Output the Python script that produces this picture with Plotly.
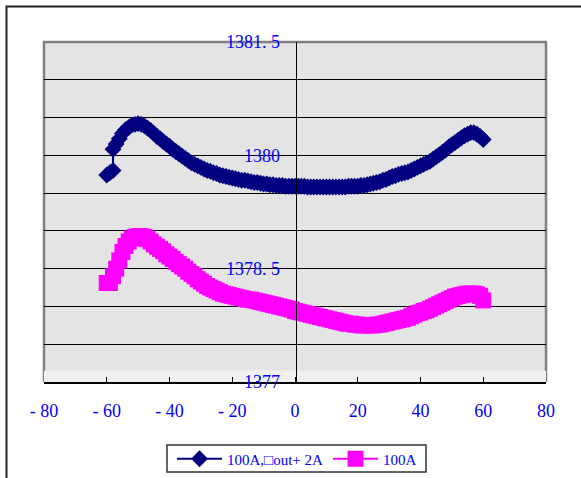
import plotly.graph_objects as go

# ---- data ----
angles_a = [-60, -59, -58] + list(range(-58, 61))
values_a = [1379.74, 1379.77, 1379.80,
            1380.08, 1380.15, 1380.22, 1380.29, 1380.34, 1380.37, 1380.40, 1380.41, 1380.42, 1380.41,  # -58..-49
            1380.39, 1380.36, 1380.33, 1380.29, 1380.25, 1380.22, 1380.18, 1380.15, 1380.12, 1380.08,  # -48..-39
            1380.05, 1380.02, 1379.99, 1379.96, 1379.93, 1379.90, 1379.88, 1379.86, 1379.84, 1379.82,  # -38..-29
            1379.80, 1379.79, 1379.77, 1379.76, 1379.74, 1379.73, 1379.72, 1379.71, 1379.70, 1379.69,  # -28..-19
            1379.68, 1379.67, 1379.67, 1379.66, 1379.65, 1379.64, 1379.64, 1379.63, 1379.62, 1379.62,  # -18..-9
            1379.61, 1379.61, 1379.60, 1379.60, 1379.60, 1379.59, 1379.59, 1379.59,                    # -8..-1
            1379.59,                                                                                    # 0
            1379.59, 1379.59, 1379.59, 1379.58, 1379.58, 1379.58, 1379.58, 1379.58, 1379.58, 1379.58,  # 1..10
            1379.58, 1379.58, 1379.58, 1379.58, 1379.58, 1379.58, 1379.59, 1379.59, 1379.59, 1379.59,  # 11..20
            1379.60, 1379.60, 1379.61, 1379.62, 1379.63, 1379.64, 1379.65, 1379.67, 1379.68, 1379.70,  # 21..30
            1379.72, 1379.73, 1379.75, 1379.76, 1379.77, 1379.78, 1379.80, 1379.82, 1379.84, 1379.86,  # 31..40
            1379.88, 1379.90, 1379.92, 1379.95, 1379.98, 1380.01, 1380.04, 1380.07, 1380.11, 1380.14,  # 41..50
            1380.17, 1380.20, 1380.23, 1380.26, 1380.28, 1380.30, 1380.30, 1380.28, 1380.25, 1380.21]  # 51..60

angles_b = list(range(-60, 61))
values_b = [1378.31, 1378.31, 1378.40, 1378.50, 1378.61, 1378.72, 1378.80, 1378.86, 1378.90, 1378.92,  # -60..-51
            1378.93, 1378.93, 1378.92, 1378.89, 1378.86, 1378.82, 1378.79, 1378.76, 1378.73, 1378.69,  # -50..-41
            1378.66, 1378.63, 1378.59, 1378.56, 1378.53, 1378.50, 1378.46, 1378.43, 1378.40, 1378.36,  # -40..-31
            1378.33, 1378.30, 1378.27, 1378.25, 1378.23, 1378.21, 1378.19, 1378.17, 1378.16, 1378.15,  # -30..-21
            1378.14, 1378.13, 1378.12, 1378.11, 1378.10, 1378.09, 1378.09, 1378.08, 1378.07, 1378.06,  # -20..-11
            1378.05, 1378.04, 1378.03, 1378.02, 1378.01, 1378.00, 1377.99, 1377.98, 1377.97, 1377.96,  # -10..-1
            1377.94,                                                                                    # 0
            1377.93, 1377.92, 1377.91, 1377.90, 1377.89, 1377.88, 1377.87, 1377.86, 1377.85, 1377.84,  # 1..10
            1377.83, 1377.82, 1377.81, 1377.80, 1377.79, 1377.78, 1377.77, 1377.77, 1377.76, 1377.76,  # 11..20
            1377.75, 1377.75, 1377.75, 1377.75, 1377.75, 1377.76, 1377.76, 1377.77, 1377.78, 1377.79,  # 21..30
            1377.80, 1377.81, 1377.82, 1377.83, 1377.84, 1377.85, 1377.87, 1377.89, 1377.91, 1377.92,  # 31..40
            1377.94, 1377.95, 1377.97, 1377.99, 1378.01, 1378.03, 1378.05, 1378.07, 1378.09, 1378.11,  # 41..50
            1378.13, 1378.14, 1378.15, 1378.16, 1378.17, 1378.17, 1378.17, 1378.16, 1378.14, 1378.08]  # 51..60

series_names = ["100A,\u25a1out+ 2A", "100A"]
x_tick_vals = [-80, -60, -40, -20, 0, 20, 40, 60, 80]
x_tick_text = ["- 80", "- 60", "- 40", "- 20", "0", "20", "40", "60", "80"]
y_tick_vals = [1377, 1378.5, 1380, 1381.5]
y_tick_text = ["1377", "1378. 5", "1380", "1381. 5"]

FONT = "Liberation Serif, Times New Roman, serif"

fig = go.Figure()
fig.add_trace(go.Scatter(
    x=angles_a, y=values_a, name=series_names[0], mode="lines+markers",
    line=dict(color="#000080", width=2),
    marker=dict(symbol="diamond", size=13, color="#000080", line=dict(width=0)),
))
fig.add_trace(go.Scatter(
    x=angles_b, y=values_b, name=series_names[1], mode="lines+markers",
    line=dict(color="#ff00ff", width=2),
    marker=dict(symbol="square", size=16, color="#ff00ff", line=dict(width=0)),
))

L, R, T, B = 44, 35, 42, 96
W, H = 581, 478
pw, ph = W - L - R, H - T - B

def px_x(p):
    return (p - L) / pw

def px_y(p):
    return (H - B - p) / ph

shapes = [
    # whitish strip at the bottom of the plot area
    dict(type="rect", xref="x", yref="y", x0=-80, x1=80, y0=1377, y1=1377.15,
         fillcolor="#f1f1f1", line=dict(width=0), layer="below"),
    # gray plot-area frame (top, left, right)
    dict(type="path", xref="paper", yref="paper",
         path="M 0 0 L 0 1 L 1 1 L 1 0", line=dict(color="#808080", width=2.5), layer="below"),
    # outer chart frame
    dict(type="rect", xref="paper", yref="paper",
         x0=px_x(6.5), x1=px_x(590), y0=px_y(490), y1=px_y(6.5),
         line=dict(color="#222222", width=2), fillcolor="rgba(0,0,0,0)", layer="above"),
    # legend box
    dict(type="rect", xref="paper", yref="paper",
         x0=px_x(167), x1=px_x(426), y0=px_y(472), y1=px_y(445),
         line=dict(color="#333333", width=1.5), fillcolor="white", layer="above"),
]

fig.update_layout(
    width=W, height=H,
    margin=dict(l=L, r=R, t=T, b=B, autoexpand=False),
    paper_bgcolor="white",
    plot_bgcolor="#e4e4e4",
    font=dict(family=FONT, color="#0000ff", size=18),
    showlegend=True,
    legend=dict(
        orientation="h",
        xref="container", yref="container",
        x=297 / W, xanchor="center", y=(H - 459) / H, yanchor="middle",
        bgcolor="rgba(0,0,0,0)", borderwidth=0,
        font=dict(family=FONT, size=15, color="#0000ff"),
        itemwidth=45, tracegroupgap=0,
    ),
    shapes=shapes,
    xaxis=dict(
        range=[-80, 80], tickmode="array", tickvals=x_tick_vals, ticktext=x_tick_text,
        showgrid=False, zeroline=False,
        showline=True, linecolor="black", linewidth=2,
        ticks="inside", ticklen=5, tickcolor="black", tickwidth=1,
        ticklabelstandoff=11,
        tickfont=dict(family=FONT, size=18, color="#0000ff"),
        fixedrange=True,
    ),
    yaxis=dict(
        range=[1377, 1381.5], tickmode="array", tickvals=y_tick_vals, ticktext=y_tick_text,
        anchor="free", position=px_x(295.7),
        showgrid=True, gridcolor="black", gridwidth=1,
        minor=dict(tickmode="linear", tick0=1377, dtick=0.5, showgrid=True,
                   gridcolor="black", gridwidth=1, ticks=""),
        zeroline=False,
        showline=True, linecolor="black", linewidth=1,
        ticks="inside", ticklen=6, tickcolor="black", tickwidth=1,
        ticklabelstandoff=12,
        tickfont=dict(family=FONT, size=18, color="#0000ff"),
        fixedrange=True,
    ),
)

fig.write_html(
    "out.html",
    config={"displayModeBar": False},
    post_script="document.body.style.margin='0';document.body.style.overflow='hidden';",
)
